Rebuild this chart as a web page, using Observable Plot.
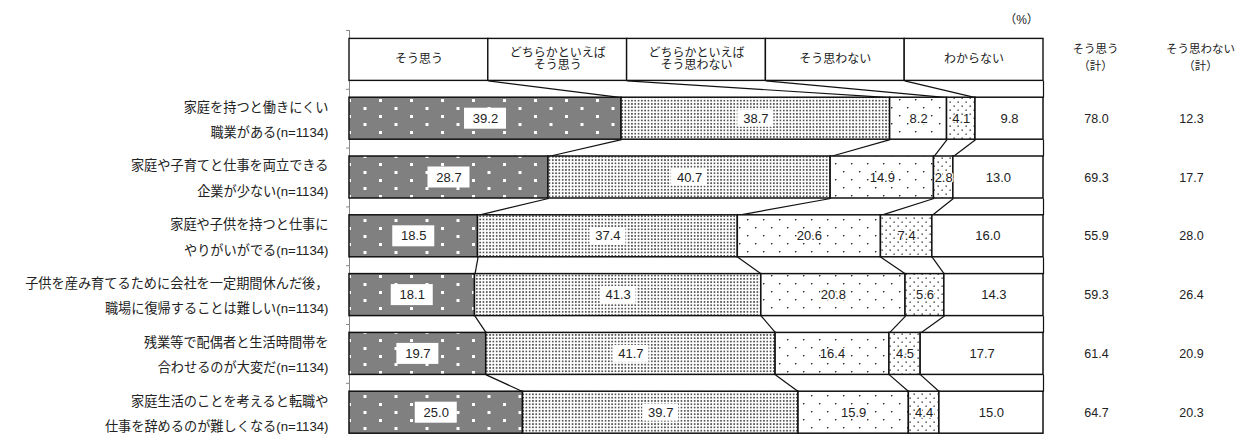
<!DOCTYPE html>
<html>
<head>
<meta charset="utf-8">
<script src="https://cdn.jsdelivr.net/npm/d3@7"></script>
<script src="https://cdn.jsdelivr.net/npm/@observablehq/plot@0.6"></script>
<style>
  html, body { margin: 0; padding: 0; background: #fff; overflow: hidden; }
</style>
</head>
<body>
<div id="chart"></div>
<script>
// ---- data ----
const categories = [
  "家庭を持つと働きにくい\n職業がある(n=1134)",
  "家庭や子育てと仕事を両立できる\n企業が少ない(n=1134)",
  "家庭や子供を持つと仕事に\nやりがいがでる(n=1134)",
  "子供を産み育てるために会社を一定期間休んだ後，\n職場に復帰することは難しい(n=1134)",
  "残業等で配偶者と生活時間帯を\n合わせるのが大変だ(n=1134)",
  "家庭生活のことを考えると転職や\n仕事を辞めるのが難しくなる(n=1134)"
];
const responses = ["そう思う", "どちらかといえば\nそう思う", "どちらかといえば\nそう思わない", "そう思わない", "わからない"];
const agree          = [39.2, 28.7, 18.5, 18.1, 19.7, 25.0];
const ratherAgree    = [38.7, 40.7, 37.4, 41.3, 41.7, 39.7];
const ratherDisagree = [8.2, 14.9, 20.6, 20.8, 16.4, 15.9];
const disagree       = [4.1, 2.8, 7.4, 5.6, 4.5, 4.4];
const dontKnow       = [9.8, 13.0, 16.0, 14.3, 17.7, 15.0];
const agreeTotal     = [78.0, 69.3, 55.9, 59.3, 61.4, 64.7];
const disagreeTotal  = [12.3, 17.7, 28.0, 26.4, 20.9, 20.3];
const totalHeaders   = ["そう思う\n（計）", "そう思わない\n（計）"];
const unitLabel      = "（%）";

// ---- derived tables ----
const series = [agree, ratherAgree, ratherDisagree, disagree, dontKnow];
const fills = ["url(#p-agree)", "url(#p-ragree)", "url(#p-rdis)", "url(#p-dis)", "white"];
const inset = 0.143; // bar inset within a row (row units)

// header (row 0): equal columns
const headerSegs = responses.map((r, s) => ({row: 0, seg: s, x1: s * 20, x2: (s + 1) * 20, label: r}));
const bounds = [[0, 20, 40, 60, 80, 100]];
const segs = [];
const rows = categories.map((c, i) => {
  const vals = series.map(a => a[i]);
  const total = d3.sum(vals);
  let cum = 0;
  const b = [0];
  vals.forEach((v, s) => {
    const x1 = cum / total * 100;
    cum += v;
    const x2 = cum / total * 100;
    segs.push({row: i + 1, seg: s, x1, x2, value: v});
    b.push(x2);
  });
  bounds.push(b);
  return {row: i + 1, label: c, at: agreeTotal[i], dt: disagreeTotal[i]};
});
const links = [];
for (let r = 0; r < bounds.length - 1; r++) {
  for (let j = 1; j < bounds[r].length; j++) {
    links.push({x1: bounds[r][j], x2: bounds[r + 1][j], y1: r + 1 - inset, y2: r + 1 + inset});
  }
}
const mid = d => (d.x1 + d.x2) / 2;
const fmt = v => v.toFixed(1);

const font = "'Liberation Sans', Arial, 'Noto Sans CJK JP', sans-serif";

const marks = [
  // left axis line & ticks
  Plot.ruleX([0], {y1: 0, y2: 7, stroke: "#888", strokeWidth: 1}),
  Plot.axisY({ticks: d3.range(0, 8), tickSize: 3, tickFormat: () => "", stroke: "#888", tickPadding: 0}),
  // header boxes
  Plot.rect(headerSegs, {x1: "x1", x2: "x2", y1: d => d.row + inset, y2: d => d.row + 1 - inset,
    fill: "white", stroke: "#111", strokeWidth: 1.4}),
  Plot.text(headerSegs, {x: mid, y: 0.5, text: "label", fontSize: 12, lineHeight: 0.98, dy: -1, fill: "#222"}),
  // connectors
  Plot.link(links, {x1: "x1", x2: "x2", y1: "y1", y2: "y2", stroke: "#111", strokeWidth: 1.2}),
];
// bars per response (patterned fills)
series.forEach((_, s) => {
  marks.push(Plot.rect(segs.filter(d => d.seg === s), {
    x1: "x1", x2: "x2", y1: d => d.row + inset, y2: d => d.row + 1 - inset,
    fill: fills[s], stroke: "#111", strokeWidth: 1.5
  }));
});
// white label boxes for the first two responses
marks.push(Plot.rect(segs.filter(d => d.seg === 0), {
  x1: mid, x2: mid, y1: d => d.row + 0.5, y2: d => d.row + 0.5,
  insetLeft: -21, insetRight: -21, insetTop: -10.5, insetBottom: -10.5, fill: "white"
}));
marks.push(Plot.rect(segs.filter(d => d.seg === 1), {
  x1: mid, x2: mid, y1: d => d.row + 0.5, y2: d => d.row + 0.5,
  insetLeft: -18, insetRight: -18, insetTop: -8.5, insetBottom: -8.5, fill: "white"
}));
marks.push(Plot.text(segs.filter(d => d.seg === 2 || d.seg === 3), {
  x: mid, y: d => d.row + 0.5, text: d => fmt(d.value), fontSize: 13, fill: "#222",
  stroke: "white", strokeWidth: 2.5
}));
marks.push(Plot.text(segs.filter(d => d.seg !== 2 && d.seg !== 3), {
  x: mid, y: d => d.row + 0.5, text: d => fmt(d.value), fontSize: 13, fill: "#222"
}));
// category labels
marks.push(Plot.text(rows, {x: 0, y: d => d.row + 0.5, text: "label", textAnchor: "end", dx: -21, dy: -2.5,
  fontSize: 13.2, lineHeight: 1.93, fill: "#222"}));
// totals columns
marks.push(Plot.text(rows, {x: 100, y: d => d.row + 0.5, text: d => fmt(d.at), dx: 53, fontSize: 12.5, fill: "#222"}));
marks.push(Plot.text(rows, {x: 100, y: d => d.row + 0.5, text: d => fmt(d.dt), dx: 148, fontSize: 12.5, fill: "#222"}));
marks.push(Plot.text([totalHeaders[0]], {x: 100, y: 0.5, text: d => d, dx: 52, dy: -4, fontSize: 11.5, lineHeight: 1.45, fill: "#222"}));
marks.push(Plot.text([totalHeaders[1]], {x: 100, y: 0.5, text: d => d, dx: 157, dy: -4, fontSize: 11.5, lineHeight: 1.45, fill: "#222"}));
marks.push(Plot.text([unitLabel], {x: 100, y: 0, text: d => d, dx: -22, dy: -10, fontSize: 12, fill: "#222"}));

const chart = Plot.plot({
  width: 1235,
  height: 434,
  marginLeft: 349,
  marginRight: 192,
  marginTop: 30,
  marginBottom: 0,
  x: {domain: [0, 100], range: [349, 1043], axis: null},
  y: {domain: [0, 7], range: [30, 441.6], axis: null},
  style: {fontFamily: font, fontSize: "13px", background: "white", color: "#222", overflow: "hidden"},
  marks
});

d3.select(chart).insert("defs", ":first-child").html(`
  <pattern id="p-agree" patternUnits="userSpaceOnUse" width="31" height="16">
    <rect width="31" height="16" fill="#808080"/>
    <rect x="7" y="3" width="3" height="3" fill="#fff"/>
    <rect x="22.5" y="11" width="3" height="3" fill="#fff"/>
  </pattern>
  <pattern id="p-ragree" patternUnits="userSpaceOnUse" width="3.3" height="3.3">
    <rect width="3.3" height="3.3" fill="#fff"/>
    <rect x="0.8" y="0.8" width="1.7" height="1.7" fill="#555"/>
  </pattern>
  <pattern id="p-rdis" patternUnits="userSpaceOnUse" width="16" height="16">
    <rect width="16" height="16" fill="#fff"/>
    <rect x="3" y="3" width="1.4" height="1.4" fill="#222"/>
    <rect x="11" y="11" width="1.4" height="1.4" fill="#222"/>
  </pattern>
  <pattern id="p-dis" patternUnits="userSpaceOnUse" width="8" height="8">
    <rect width="8" height="8" fill="#fff"/>
    <rect x="1.5" y="1.5" width="1.3" height="1.3" fill="#222"/>
    <rect x="5.5" y="5.5" width="1.3" height="1.3" fill="#222"/>
  </pattern>
`);

document.getElementById("chart").appendChild(chart);
</script>
</body>
</html>
